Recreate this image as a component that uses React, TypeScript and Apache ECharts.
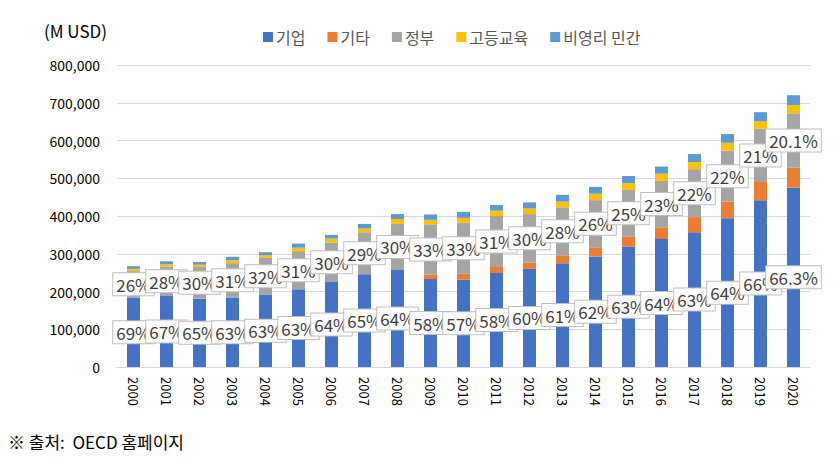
import React, { useEffect, useRef } from "react";
import * as echarts from "echarts";

const years = ["2000","2001","2002","2003","2004","2005","2006","2007","2008","2009","2010","2011","2012","2013","2014","2015","2016","2017","2018","2019","2020"];
const business = [184, 188, 181, 184, 192, 206, 225, 246, 257, 233, 232, 249, 260, 275, 293, 319, 339, 357, 394, 442, 475];
const other = [0, 0, 0, 0, 0, 0, 0, 0, 0, 12, 15, 16, 17, 21, 24, 26, 31, 40, 44, 48, 53];
const government = [70, 78, 84, 91, 97, 101, 105, 111, 122, 133, 135, 135, 128, 127, 125, 124, 123, 127, 135, 141, 144];
const higherEdu = [6, 6, 6, 8, 7, 9, 10, 10, 13, 12, 13, 14, 15, 15, 17, 18, 19, 19, 21, 20, 22];
const nonProfit = [7, 8, 7, 9, 8, 11, 10, 12, 13, 14, 16, 15, 16, 18, 18, 19, 19, 21, 23, 24, 26];
const businessPct = ["69%","67%","65%","63%","63%","63%","64%","65%","64%","58%","57%","58%","60%","61%","62%","63%","64%","63%","64%","66%","66.3%"];
const governmentPct = ["26%","28%","30%","31%","32%","31%","30%","29%","30%","33%","33%","31%","30%","28%","26%","25%","23%","22%","22%","21%","20.1%"];
const yTicks = [0, 100000, 200000, 300000, 400000, 500000, 600000, 700000, 800000];

const FONT = "'Noto Sans CJK KR', 'Noto Sans', sans-serif";

const k = (arr: number[]) => arr.map((v) => v * 1000);

const boxLabel = (texts: string[]) => ({
  show: true,
  position: "inside" as const,
  formatter: (p: any) => texts[p.dataIndex],
  backgroundColor: "#ffffff",
  borderColor: "#BFBFBF",
  borderWidth: 1,
  padding: [3, 3, 2, 3],
  color: "#404040",
  fontSize: 17,
  fontFamily: FONT,
});

export default function App() {
  const ref = useRef<HTMLDivElement>(null);
  useEffect(() => {
    if (!ref.current) return;
    const chart = echarts.init(ref.current, undefined, { renderer: "svg" });
    chart.setOption({
      animation: false,
      backgroundColor: "#ffffff",
      textStyle: { fontFamily: FONT },
      graphic: [
        {
          type: "text",
          left: 44,
          top: 22,
          style: { text: "(M USD)", fontSize: 17, fill: "#000000", fontFamily: FONT },
        },
        {
          type: "text",
          left: 8,
          top: 433,
          style: { text: "※ 출처:  OECD 홈페이지", fontSize: 17, fill: "#000000", fontFamily: FONT },
        },
      ],
      legend: {
        top: 24,
        left: 258,
        itemWidth: 10,
        itemHeight: 10,
        itemGap: 22,
        icon: "rect",
        textStyle: { fontSize: 16, color: "#595959", fontFamily: FONT, padding: [0, 0, 0, -2] },
        data: ["기업", "기타", "정부", "고등교육", "비영리 민간"],
      },
      grid: { left: 117, right: 29, top: 65, bottom: 108 },
      xAxis: {
        type: "category",
        data: years,
        axisLine: { lineStyle: { color: "#D9D9D9" } },
        axisTick: { show: false },
        axisLabel: { rotate: -90, color: "#000000", fontSize: 13, margin: 10, fontFamily: FONT },
      },
      yAxis: {
        type: "value",
        min: 0,
        max: 800000,
        interval: 100000,
        axisLine: { show: false },
        axisTick: { show: false },
        splitLine: { lineStyle: { color: "#D9D9D9" } },
        axisLabel: {
          color: "#000000",
          fontSize: 14,
          margin: 17,
          fontFamily: FONT,
          formatter: (v: number) => (yTicks.includes(v) ? v.toLocaleString("en-US") : ""),
        },
      },
      series: [
        { name: "기업", type: "bar", stack: "t", barWidth: 13, data: k(business), itemStyle: { color: "#4472C4" }, label: boxLabel(businessPct) },
        { name: "기타", type: "bar", stack: "t", data: k(other), itemStyle: { color: "#ED7D31" } },
        { name: "정부", type: "bar", stack: "t", data: k(government), itemStyle: { color: "#A5A5A5" }, label: boxLabel(governmentPct) },
        { name: "고등교육", type: "bar", stack: "t", data: k(higherEdu), itemStyle: { color: "#FFC000" } },
        { name: "비영리 민간", type: "bar", stack: "t", data: k(nonProfit), itemStyle: { color: "#5B9BD5" } },
      ],
    });
    return () => chart.dispose();
  }, []);
  return <div ref={ref} style={{ width: 839, height: 475, position: "absolute", left: 0, top: 0 }} />;
}
